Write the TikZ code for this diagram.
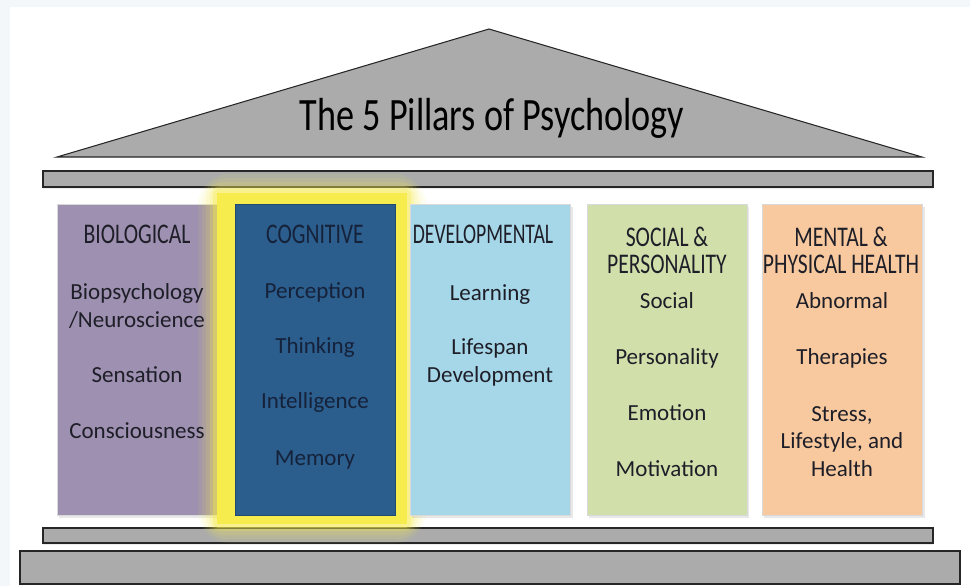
\documentclass[tikz,border=0pt]{standalone}
\usepackage{fontspec}
\setmainfont{Carlito}
\newfontfamily\headfont[FakeStretch=0.76]{Carlito}
\newfontfamily\titlefont[FakeStretch=0.78]{Carlito}
\usetikzlibrary{shadows}

\definecolor{bgframe}{HTML}{F3F7FA}
\definecolor{stonegray}{HTML}{ABABAB}
\definecolor{biocol}{HTML}{9E90B0}
\definecolor{cogcol}{HTML}{2B5D8D}
\definecolor{devcol}{HTML}{A6D7E8}
\definecolor{soccol}{HTML}{D1DFAA}
\definecolor{healthcol}{HTML}{F8C99E}
\definecolor{glowcol}{HTML}{F6EC4E}
\definecolor{inkcol}{HTML}{1E1E28}
\definecolor{cogink}{HTML}{15223A}

\begin{document}
\begin{tikzpicture}[x=0.02cm, y=-0.02cm]
% Define styles
\tikzset{
  stone/.style={draw=black!85, line width=0.9pt, fill=stonegray},
  pillar/.style={rectangle, draw=black!15, line width=0.4pt, minimum width=3.21cm, minimum height=6.22cm, inner sep=0pt},
  shade/.style={drop shadow={opacity=0.18, shadow xshift=1.2pt, shadow yshift=-1.5pt}},
  heading/.style={anchor=base, align=center, text=inkcol, inner sep=0pt, font=\headfont\fontsize{16.2}{15.3}\selectfont},
  topic/.style={anchor=base, align=center, text=inkcol, inner sep=0pt, font=\fontsize{13.1}{15.6}\selectfont}
}

% Frame and page
\fill [bgframe] (0,0) rectangle (970,586);
\fill [white] (10,7) rectangle (970,586);
\useasboundingbox (0,0) rectangle (970,586);

% Roof, beams and base
\draw [stone, line width=0.6pt] (57,157) -- (489,29) -- (922,157) -- cycle;
\node (title) [anchor=base, inner sep=0pt, font=\titlefont\fontsize{26.4}{30}\selectfont] at (492,130) {The 5 Pillars of Psychology};
\draw [stone, drop shadow={opacity=0.15, shadow xshift=0pt, shadow yshift=-1.2pt}] (43,171) rectangle (933,187);
\draw [stone, drop shadow={opacity=0.15, shadow xshift=0pt, shadow yshift=-1.2pt}] (43,528) rectangle (933,543);
\draw [stone] (20,551) rectangle (960,584);

% Pillars
\node (bio) [pillar, shade, fill=biocol] at (137.5,359.5) {};

% Highlight round the cognitive pillar
\foreach \g/\op in {18/0.08, 14/0.10, 10/0.14, 6/0.22, 3/0.35}
  \fill [glowcol, opacity=\op, rounded corners=\g] (216-\g,192-\g) rectangle (408+\g,525+\g);
\fill [glowcol] (217,193) rectangle (407,524);

\node (cog) [pillar, minimum width=3.2cm, fill=cogcol, draw=cogcol!80!black] at (315,359.5) {};
\node (dev) [pillar, shade, fill=devcol] at (490.5,359.5) {};
\node (soc) [pillar, shade, minimum width=3.2cm, fill=soccol] at (667,359.5) {};
\node (health) [pillar, shade, fill=healthcol] at (842.5,359.5) {};

% Biological
\node (bio-head) [heading] at (137,243) {BIOLOGICAL};
\node (bio-1) [topic] at (137,327) {Biopsychology\\/Neuroscience};
\node (bio-2) [topic] at (137,382) {Sensation};
\node (bio-3) [topic] at (137,438) {Consciousness};

% Cognitive
\node (cog-head) [heading, text=cogink] at (315,243) {COGNITIVE};
\node (cog-1) [topic, text=cogink] at (315,298) {Perception};
\node (cog-2) [topic, text=cogink] at (315,353) {Thinking};
\node (cog-3) [topic, text=cogink] at (315,408) {Intelligence};
\node (cog-4) [topic, text=cogink] at (315,465) {Memory};

% Developmental
\node (dev-head) [heading] at (483,243) {\scalebox{0.91}[1]{DEVELOPMENTAL}};
\node (dev-1) [topic] at (490,300) {Learning};
\node (dev-2) [topic] at (490,382) {Lifespan\\Development};

% Social & personality
\node (soc-head) [heading] at (667,273) {SOCIAL \&\\PERSONALITY};
\node (soc-1) [topic] at (667,308) {Social};
\node (soc-2) [topic] at (667,364) {Personality};
\node (soc-3) [topic] at (667,420) {Emotion};
\node (soc-4) [topic] at (667,476) {Motivation};

% Mental & physical health
\node (health-head) [heading] at (841,273) {MENTAL \&\\PHYSICAL HEALTH};
\node (health-1) [topic] at (842,308) {Abnormal};
\node (health-2) [topic] at (842,364) {Therapies};
\node (health-3) [topic] at (842,476) {Stress,\\Lifestyle, and\\Health};
\end{tikzpicture}
\end{document}
